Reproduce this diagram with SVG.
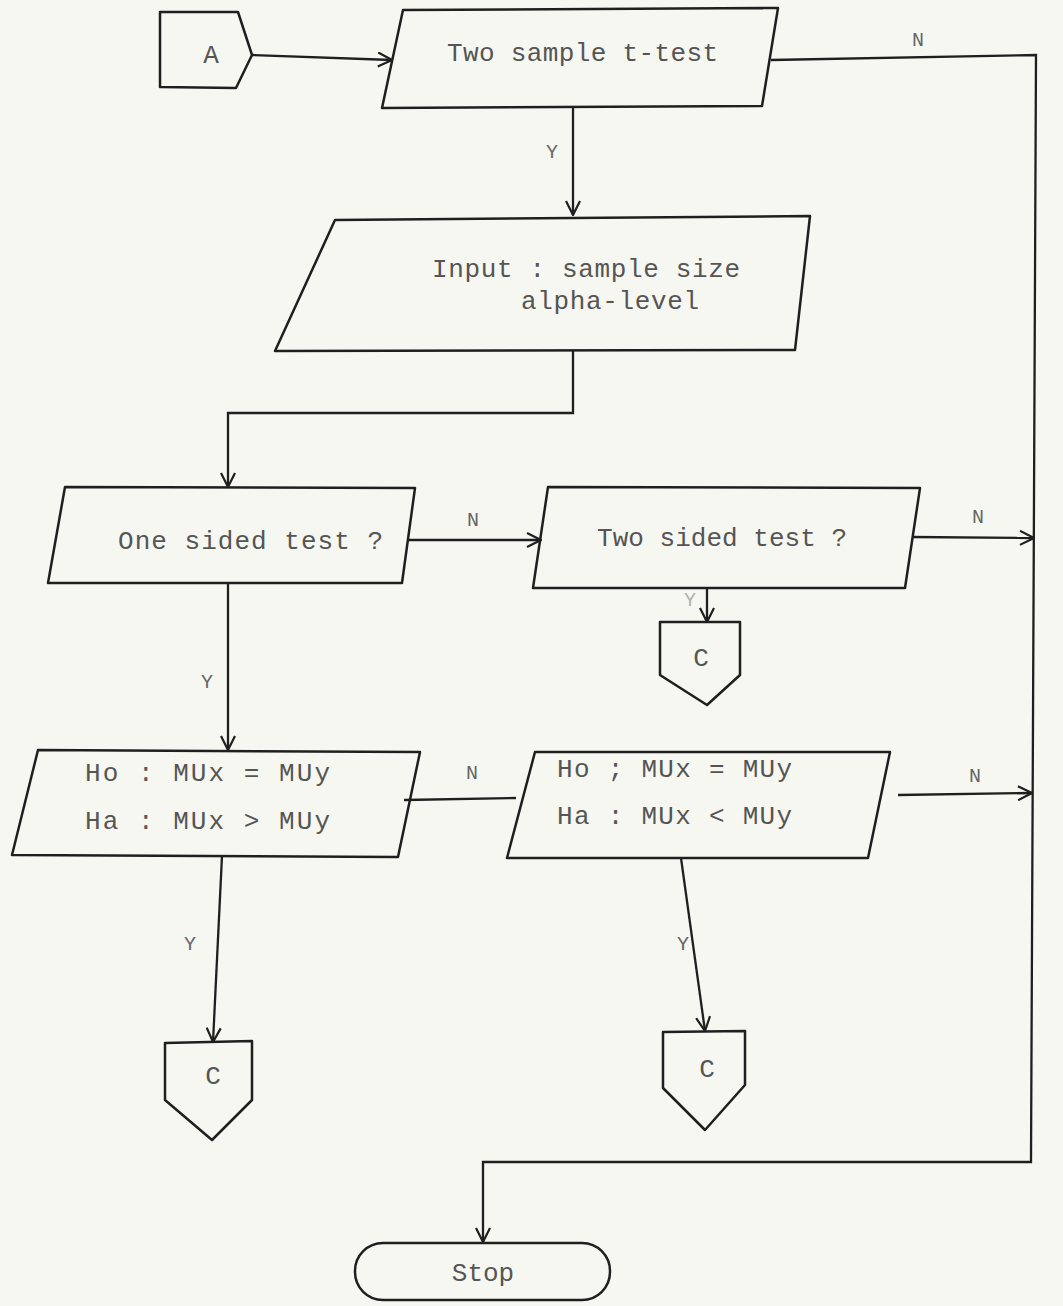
<svg xmlns="http://www.w3.org/2000/svg" width="1063" height="1306" viewBox="0 0 1063 1306">
  <style>
    .shape { fill: none; stroke: #1f1f1f; stroke-width: 2.5; stroke-linejoin: round; }
    .wire { fill: none; stroke: #1f1f1f; stroke-width: 2.3; }
    .txt { font-family: "Liberation Mono", "DejaVu Sans Mono", monospace; font-size: 26px; fill: #555555; }
    .lbl { font-family: "Liberation Mono", "DejaVu Sans Mono", monospace; font-size: 20px; fill: #666666; text-anchor: middle; }
  </style>
  <defs>
    <marker id="arrow" viewBox="0 0 16 16" refX="15" refY="8" markerWidth="16" markerHeight="16" markerUnits="userSpaceOnUse" orient="auto">
      <path d="M1,1 L15,8 L1,15" fill="none" stroke="#1f1f1f" stroke-width="2.2"/>
    </marker>
  </defs>

  <rect x="0" y="0" width="1063" height="1306" fill="#f7f7f1"/>

  <!-- connectors -->
  <g id="connectors">
    <path class="wire" d="M252,55 L392,60" marker-end="url(#arrow)"/>
    <path class="wire" d="M771,60 L1036,55 L1031,1162 L483,1162 L483,1242" marker-end="url(#arrow)"/>
    <path class="wire" d="M573,107 L573,215" marker-end="url(#arrow)"/>
    <path class="wire" d="M573,350 L573,413 L228,413 L228,487" marker-end="url(#arrow)"/>
    <path class="wire" d="M408,540 L541,540" marker-end="url(#arrow)"/>
    <path class="wire" d="M912,537 L1034,538" marker-end="url(#arrow)"/>
    <path class="wire" d="M707,588 L707,622" marker-end="url(#arrow)"/>
    <path class="wire" d="M228,583 L228,750" marker-end="url(#arrow)"/>
    <path class="wire" d="M404,800 L516,798"/>
    <path class="wire" d="M898,795 L1032,793" marker-end="url(#arrow)"/>
    <path class="wire" d="M222,856 L213,1042" marker-end="url(#arrow)"/>
    <path class="wire" d="M681,858 L705,1031" marker-end="url(#arrow)"/>

    <text class="lbl" x="918" y="46">N</text>
    <text class="lbl" x="552" y="158">Y</text>
    <text class="lbl" x="473" y="526">N</text>
    <text class="lbl" x="978" y="523">N</text>
    <text class="lbl" x="690" y="606" fill-opacity="0.5">Y</text>
    <text class="lbl" x="207" y="688">Y</text>
    <text class="lbl" x="472" y="779">N</text>
    <text class="lbl" x="975" y="782">N</text>
    <text class="lbl" x="190" y="950">Y</text>
    <text class="lbl" x="683" y="950">Y</text>
  </g>

  <!-- off-page connector A -->
  <g id="node-a">
    <path class="shape" d="M160,12 L238,12 L252,55 L236,88 L160,87 Z"/>
    <text class="txt" x="211" y="63" text-anchor="middle">A</text>
  </g>

  <!-- decision: two sample t-test -->
  <g id="node-ttest">
    <path class="shape" d="M403,10 L778,8 L762,106 L382,108 Z"/>
    <text class="txt" x="447" y="61" textLength="271" lengthAdjust="spacing">Two sample t-test</text>
  </g>

  <!-- input block -->
  <g id="node-input">
    <path class="shape" d="M335,220 L810,216 L795,350 L275,351 Z"/>
    <text class="txt" x="432" y="277" textLength="308" lengthAdjust="spacing">Input : sample size</text>
    <text class="txt" x="521" y="309" textLength="178" lengthAdjust="spacing">alpha-level</text>
  </g>

  <!-- decision: one sided -->
  <g id="node-onesided">
    <path class="shape" d="M65,487 L415,488 L402,583 L48,583 Z"/>
    <text class="txt" x="118" y="549" textLength="265" lengthAdjust="spacing">One sided test ?</text>
  </g>

  <!-- decision: two sided -->
  <g id="node-twosided">
    <path class="shape" d="M548,487 L920,488 L905,588 L533,588 Z"/>
    <text class="txt" x="597" y="546" textLength="250" lengthAdjust="spacing">Two sided test ?</text>
  </g>

  <!-- connector C after two sided -->
  <g id="node-c1">
    <path class="shape" d="M660,622 L740,622 L740,675 L707,705 L660,675 Z"/>
    <text class="txt" x="701" y="666" text-anchor="middle">C</text>
  </g>

  <!-- hypotheses: greater -->
  <g id="node-greater">
    <path class="shape" d="M38,750 L420,752 L398,857 L12,855 Z"/>
    <text class="txt" x="85" y="781" textLength="245" lengthAdjust="spacing">Ho : MUx = MUy</text>
    <text class="txt" x="85" y="829" textLength="245" lengthAdjust="spacing">Ha : MUx &gt; MUy</text>
  </g>

  <!-- hypotheses: less -->
  <g id="node-less">
    <path class="shape" d="M535,752 L890,752 L868,858 L507,858 Z"/>
    <text class="txt" x="557" y="777" textLength="235" lengthAdjust="spacing">Ho ; MUx = MUy</text>
    <text class="txt" x="557" y="824" textLength="235" lengthAdjust="spacing">Ha : MUx &lt; MUy</text>
  </g>

  <!-- connector C after greater -->
  <g id="node-c2">
    <path class="shape" d="M165,1043 L252,1041 L252,1100 L212,1140 L165,1100 Z"/>
    <text class="txt" x="213" y="1084" text-anchor="middle">C</text>
  </g>

  <!-- connector C after less -->
  <g id="node-c3">
    <path class="shape" d="M663,1032 L745,1031 L745,1085 L705,1130 L663,1088 Z"/>
    <text class="txt" x="707" y="1077" text-anchor="middle">C</text>
  </g>

  <!-- terminator -->
  <g id="node-stop">
    <rect class="shape" x="355" y="1243" width="255" height="57" rx="28" ry="28"/>
    <text class="txt" x="483" y="1281" text-anchor="middle">Stop</text>
  </g>
</svg>
